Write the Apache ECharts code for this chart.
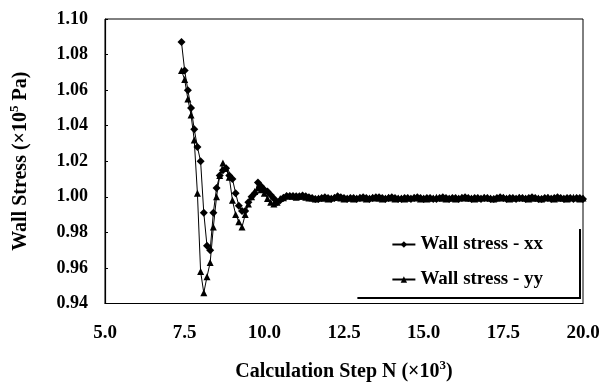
<!DOCTYPE html>
<html>
<head>
<meta charset="utf-8">
<script src="https://cdn.jsdelivr.net/npm/echarts@6/dist/echarts.min.js"></script>
<style>html,body{margin:0;padding:0;background:#fff;}#c{width:604px;height:387px;}</style>
</head>
<body>
<div id="c"></div>
<script>
// Calculation step N (x10^3)
const steps = [
  7.4, 7.5, 7.6, 7.7, 7.8, 7.9,
  8.0, 8.1, 8.2, 8.3, 8.4, 8.5, 8.6, 8.7, 8.8, 8.9,
  9.0, 9.1, 9.2, 9.3, 9.4, 9.5, 9.6, 9.7, 9.8, 9.9,
  10.0, 10.1, 10.2, 10.3, 10.4, 10.5, 10.6, 10.7, 10.8, 10.9,
  11.0, 11.1, 11.2, 11.3, 11.4, 11.5, 11.6, 11.7, 11.8, 11.9,
  12.0, 12.1, 12.2, 12.3, 12.4, 12.5, 12.6, 12.7, 12.8, 12.9,
  13.0, 13.1, 13.2, 13.3, 13.4, 13.5, 13.6, 13.7, 13.8, 13.9,
  14.0, 14.1, 14.2, 14.3, 14.4, 14.5, 14.6, 14.7, 14.8, 14.9,
  15.0, 15.1, 15.2, 15.3, 15.4, 15.5, 15.6, 15.7, 15.8, 15.9,
  16.0, 16.1, 16.2, 16.3, 16.4, 16.5, 16.6, 16.7, 16.8, 16.9,
  17.0, 17.1, 17.2, 17.3, 17.4, 17.5, 17.6, 17.7, 17.8, 17.9,
  18.0, 18.1, 18.2, 18.3, 18.4, 18.5, 18.6, 18.7, 18.8, 18.9,
  19.0, 19.1, 19.2, 19.3, 19.4, 19.5, 19.6, 19.7, 19.8, 19.9,
  20.0
];
// Wall stress - xx (x10^5 Pa)
const stressXX = [
  1.087, 1.071, 1.060, 1.050, 1.038, 1.028,
  1.020, 0.991, 0.9725, 0.970, 0.991, 1.005, 1.012, 1.015, 1.016, 1.012,
  1.010, 1.002, 0.995, 0.992, 0.992, 0.997, 1.000, 1.002, 1.008, 1.006,
  1.004, 1.003, 1.001, 0.999, 0.997, 0.998, 0.9995, 1.0005, 1.0005, 1.0005,
  1.0003, 1.0003, 1.0008, 1.0003, 0.9998, 0.9993, 0.9988, 0.9988, 0.9993, 0.9998,
  0.9993, 0.9988, 0.9993, 1.0003, 0.9998, 0.9993, 0.9988, 0.9993, 0.9993, 0.9988,
  0.9993, 0.9998, 0.9993, 0.9988, 0.9993, 0.9998, 0.9998, 0.9993, 0.9988, 0.9993,
  0.9998, 0.9993, 0.9988, 0.9988, 0.9993, 0.9993, 0.9988, 0.9993, 0.9998, 0.9993,
  0.9988, 0.9993, 0.9993, 0.9988, 0.9988, 0.9993, 0.9998, 0.9993, 0.9988, 0.9993,
  0.9993, 0.9988, 0.9993, 0.9998, 0.9993, 0.9988, 0.9993, 0.9993, 0.9988, 0.9993,
  0.9993, 0.9988, 0.9988, 0.9993, 0.9998, 0.9993, 0.9988, 0.9993, 0.9993, 0.9988,
  0.9993, 0.9993, 0.9988, 0.9993, 0.9998, 0.9993, 0.9988, 0.9988, 0.9993, 0.9993,
  0.9988, 0.9993, 0.9998, 0.9993, 0.9988, 0.9993, 0.9993, 0.9988, 0.9993, 0.9993,
  0.9988
];
// Wall stress - yy (x10^5 Pa)
const stressYY = [
  1.071, 1.066, 1.055, 1.046, 1.032, 1.002,
  0.958, 0.946, 0.955, 0.963, 0.983, 1.000, 1.012, 1.019, 1.016, 1.011,
  0.998, 0.990, 0.986, 0.983, 0.990, 0.996, 1.000, 1.003, 1.005, 1.004,
  1.002, 0.999, 0.997, 0.996, 0.997, 0.999, 0.9995, 1.0005, 1.0005, 1.0003,
  0.9998, 1.0003, 1.0003, 0.9998, 0.9993, 0.9993, 0.9988, 0.9993, 0.9993, 0.9993,
  0.9988, 0.9993, 0.9998, 0.9998, 0.9993, 0.9988, 0.9993, 0.9993, 0.9988, 0.9993,
  0.9998, 0.9993, 0.9988, 0.9993, 0.9998, 0.9993, 0.9993, 0.9988, 0.9993, 0.9998,
  0.9993, 0.9988, 0.9993, 0.9993, 0.9988, 0.9993, 0.9993, 0.9998, 0.9993, 0.9988,
  0.9993, 0.9988, 0.9993, 0.9993, 0.9998, 0.9993, 0.9993, 0.9988, 0.9993, 0.9993,
  0.9988, 0.9993, 0.9998, 0.9993, 0.9993, 0.9993, 0.9988, 0.9993, 0.9993, 0.9998,
  0.9993, 0.9993, 0.9988, 0.9993, 0.9993, 0.9998, 0.9993, 0.9988, 0.9993, 0.9993,
  0.9998, 0.9993, 0.9993, 0.9988, 0.9993, 0.9993, 0.9993, 0.9988, 0.9993, 0.9998,
  0.9993, 0.9988, 0.9993, 0.9993, 0.9993, 0.9988, 0.9993, 0.9998, 0.9993, 0.9988,
  0.9993
];
const seriesNames = ['Wall stress - xx', 'Wall stress - yy'];
const xAxisTitle = 'Calculation Step N (×10{s|3})';
const yAxisTitle = 'Wall Stress (×10{s|5} Pa)';

const FONT = '"Liberation Serif", "Times New Roman", serif';
const chart = echarts.init(document.getElementById('c'), null, {renderer: 'canvas'});

function pairs(xs, ys) { return xs.map((x, i) => [x, ys[i]]); }

const titleStyle = {
  fontFamily: FONT, fontWeight: 'bold', fontSize: 20, color: '#000',
  rich: { s: { fontFamily: FONT, fontWeight: 'bold', fontSize: 13, color: '#000', padding: [0, 0, 12, 0] } }
};

chart.setOption({
  animation: false,
  backgroundColor: '#fff',
  grid: { left: 104, right: 21, top: 19, bottom: 80, containLabel: false,
          show: true, borderColor: '#000', borderWidth: 1, backgroundColor: 'transparent' },
  xAxis: {
    type: 'value', min: 5, max: 20, interval: 2.5,
    name: xAxisTitle, nameLocation: 'middle', nameGap: 56, nameTextStyle: titleStyle,
    axisLine: { show: true, lineStyle: { color: '#000', width: 1.2 } },
    axisTick: { show: false },
    splitLine: { show: false },
    axisLabel: { margin: 20, fontFamily: FONT, fontWeight: 'bold', fontSize: 19, color: '#000',
                 formatter: v => v.toFixed(1) }
  },
  yAxis: {
    type: 'value', min: 0.94, max: 1.10, interval: 0.02,
    name: yAxisTitle, nameLocation: 'middle', nameRotate: 90, nameGap: 72, nameTextStyle: titleStyle,
    axisLine: { show: true, lineStyle: { color: '#000', width: 1.2 } },
    axisTick: { show: true, inside: true, length: 3, lineStyle: { color: '#000' } },
    splitLine: { show: false },
    axisLabel: { margin: 17, fontFamily: FONT, fontWeight: 'bold', fontSize: 18, color: '#000',
                 formatter: v => v.toFixed(2) }
  },
  legend: {
    orient: 'vertical', right: 25, top: 227,
    padding: [8, 36, 8, 36], itemGap: 16, itemWidth: 23, itemHeight: 8,
    backgroundColor: '#fff', borderWidth: 0,
    shadowColor: '#000', shadowBlur: 0, shadowOffsetX: 2, shadowOffsetY: 2,
    textStyle: { fontFamily: FONT, fontWeight: 'bold', fontSize: 19, color: '#000' },
    data: seriesNames
  },
  series: [
    { name: seriesNames[0], type: 'line', data: pairs(steps, stressXX),
      symbol: 'diamond', symbolSize: 8, showAllSymbol: true,
      lineStyle: { color: '#000', width: 1 }, itemStyle: { color: '#000' } },
    { name: seriesNames[1], type: 'line', data: pairs(steps, stressYY),
      symbol: 'triangle', symbolSize: 7, showAllSymbol: true,
      lineStyle: { color: '#000', width: 1 }, itemStyle: { color: '#000' } }
  ]
});
</script>
</body>
</html>
